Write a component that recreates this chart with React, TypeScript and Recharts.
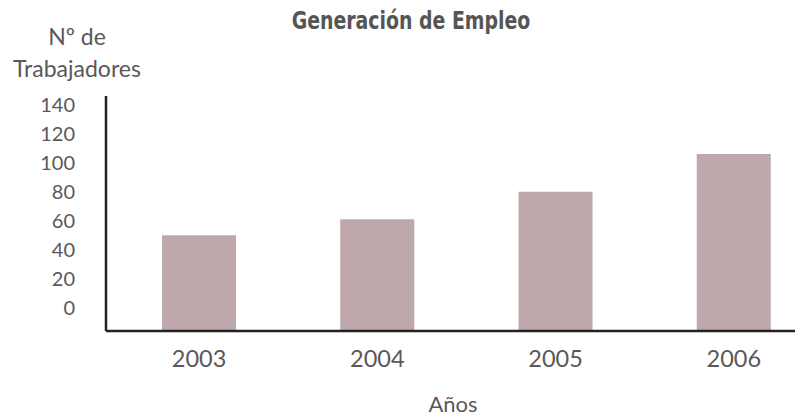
import React from "react";
import { BarChart, Bar, XAxis, YAxis } from "recharts";

const years = ["2003", "2004", "2005", "2006"];
const workers = [50, 61, 80, 106];
const yTicks = [0, 20, 40, 60, 80, 100, 120, 140];
const axisFloor = -16;
const axisCeil = 146;

const data = years.map((y, i) => ({ year: y, value: workers[i] }));

const FONT = "Lato, 'Open Sans', sans-serif";
const TEXT = "#595959";

export default function App() {
  return (
    <div style={{ position: "absolute", left: 0, top: 0, width: 795, height: 416, overflow: "hidden", background: "#fff", fontFamily: FONT }}>
      <BarChart
        width={823}
        height={416}
        data={data}
        margin={{ top: 96, right: 0, bottom: 0, left: 0 }}
        barSize={74}
      >
        <XAxis
          dataKey="year"
          axisLine={{ stroke: "#222", strokeWidth: 2.5 }}
          tickLine={false}
          tickSize={0}
          tickMargin={19}
          padding={{ left: 4, right: 0 }}
          height={85}
          tick={{ fill: TEXT, fontSize: 23.5, fontFamily: FONT }}
          interval={0}
        />
        <YAxis
          width={106}
          domain={[axisFloor, axisCeil]}
          ticks={yTicks}
          allowDataOverflow
          axisLine={{ stroke: "#222", strokeWidth: 2.5 }}
          tickLine={false}
          tickSize={0}
          tickMargin={31}
          tick={{ fill: TEXT, fontSize: 20, fontFamily: FONT }}
          interval={0}
        />
        <Bar dataKey={(d: any) => [axisFloor, d.value]} fill="#bfa8ab" isAnimationActive={false} />
      </BarChart>
      <div style={{ position: "absolute", left: 0, width: 822, top: 6, textAlign: "center", fontFamily: "'DejaVu Sans Condensed', sans-serif", fontWeight: 700, fontSize: 24, color: "#555", lineHeight: "30px", transform: "scaleX(0.875)", transformOrigin: "411px 0" }}>
        Generación de Empleo
      </div>
      <div style={{ position: "absolute", left: 7, width: 140, top: 20, textAlign: "center", fontSize: 23, color: TEXT, lineHeight: "32px" }}>
        Nº de<br />Trabajadores
      </div>
      <div style={{ position: "absolute", left: 353, width: 200, top: 392, textAlign: "center", fontSize: 22, color: TEXT, lineHeight: "24px" }}>
        Años
      </div>
    </div>
  );
}
